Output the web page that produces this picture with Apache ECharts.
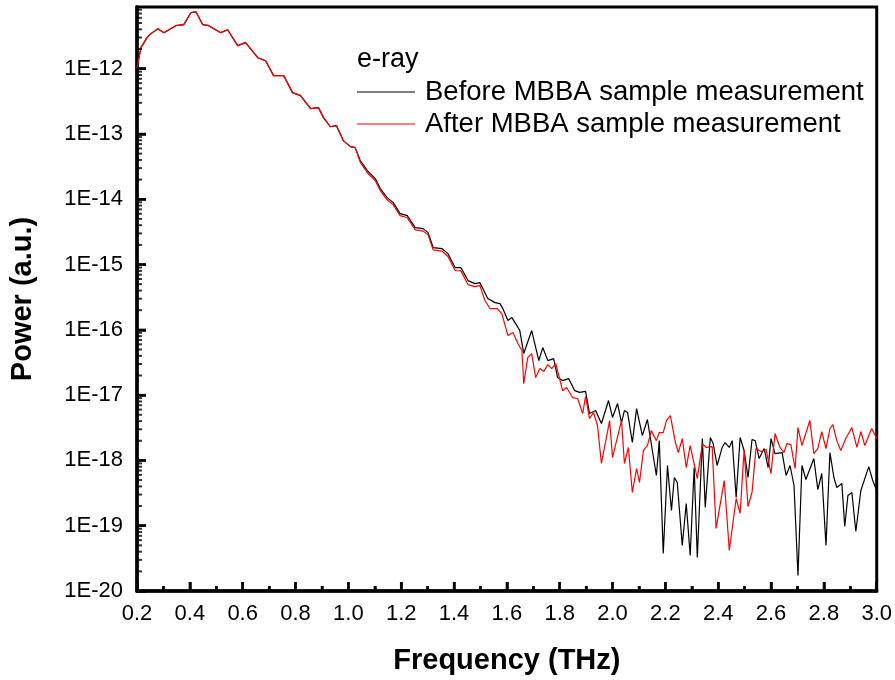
<!DOCTYPE html>
<html>
<head>
<meta charset="utf-8">
<script src="https://cdn.jsdelivr.net/npm/echarts@6/dist/echarts.min.js"></script>
<style>html,body{margin:0;padding:0;background:#fff;}#c{width:895px;height:680px;}</style>
</head>
<body>
<div id="c"></div>
<script>
// ---- data ----
const xTicks = ['0.2','0.4','0.6','0.8','1.0','1.2','1.4','1.6','1.8','2.0','2.2','2.4','2.6','2.8','3.0'];
const xMinorTicks = [0.3,0.5,0.7,0.9,1.1,1.3,1.5,1.7,1.9,2.1,2.3,2.5,2.7,2.9];
const yTicks = ['1E-20','1E-19','1E-18','1E-17','1E-16','1E-15','1E-14','1E-13','1E-12'];

const freqBefore = [0.200,0.215,0.238,0.253,0.279,0.302,0.347,0.377,0.404,0.423,0.449,0.472,0.517,0.543,0.581,0.611,0.657,0.687,0.717,0.755,0.789,0.819,0.857,0.887,0.906,0.932,0.955,0.981,1.008,1.026,
1.045,1.072,1.102,1.121,1.147,1.170,1.196,1.223,1.253,1.283,1.302,1.321,1.355,1.377,1.404,1.426,1.453,1.479,1.498,
1.528,1.555,1.574,1.585,1.604,1.619,1.638,1.649,1.664,1.694,1.721,1.736,1.755,1.777,1.792,1.811,1.834,1.857,1.875,1.898,1.913,1.936,1.958,1.985,2.000,2.019,2.034,2.045,2.057,2.075,2.091,2.113,2.132,2.166,2.177,2.192,2.208,2.223,2.234,2.245,2.264,2.279,2.294,2.309,2.321,2.340,2.351,2.370,2.381,2.396,2.415,2.426,2.442,2.453,2.468,2.483,2.498,2.513,2.528,2.540,2.555,2.574,2.589,2.600,2.615,2.642,2.657,2.672,2.687,2.702,2.717,2.732,2.762,2.777,2.792,2.808,2.823,2.838,2.849,2.868,2.879,2.891,2.906,2.921,2.940,2.970,2.985,3.000];
const powerBefore = [1.03e-12,2.10e-12,2.99e-12,3.44e-12,4.10e-12,3.56e-12,4.55e-12,4.72e-12,7.19e-12,7.46e-12,4.72e-12,4.55e-12,3.56e-12,3.95e-12,2.25e-12,2.50e-12,1.47e-12,1.32e-12,7.82e-13,7.82e-13,4.30e-13,3.86e-13,2.44e-13,2.53e-13,1.78e-13,1.29e-13,1.34e-13,7.91e-14,6.40e-14,6.18e-14,
3.91e-14,2.74e-14,2.07e-14,1.46e-14,1.06e-14,8.88e-15,6.03e-15,5.61e-15,3.68e-15,3.55e-15,3.08e-15,1.82e-15,1.75e-15,1.47e-15,8.98e-16,8.98e-16,5.68e-16,5.10e-16,5.28e-16,
3.01e-16,2.61e-16,2.52e-16,2.11e-16,1.39e-16,1.54e-16,1.16e-16,9.75e-17,4.33e-17,9.75e-17,3.38e-17,5.35e-17,3.38e-17,3.63e-17,1.86e-17,1.67e-17,1.79e-17,1.17e-17,1.10e-17,1.14e-17,5.23e-18,5.81e-18,3.67e-18,8.26e-18,4.54e-18,7.43e-18,3.80e-18,5.81e-18,5.41e-18,1.88e-18,6.22e-18,2.40e-18,4.23e-18,5.87e-19,2.01e-18,3.75e-20,8.36e-19,1.71e-19,5.47e-19,4.59e-19,4.98e-20,2.19e-19,3.50e-20,7.78e-19,3.26e-20,2.16e-18,1.90e-19,2.24e-18,1.81e-18,8.36e-19,1.58e-18,1.88e-18,1.58e-18,2.01e-18,2.70e-19,2.24e-18,1.42e-18,5.47e-19,2.09e-18,2.01e-18,1.07e-18,1.52e-18,7.78e-19,2.16e-18,1.27e-18,1.32e-18,5.87e-19,8.36e-19,4.13e-19,1.73e-20,8.36e-19,5.10e-19,1.07e-18,3.58e-19,6.30e-19,4.98e-20,1.32e-18,5.47e-19,3.85e-19,4.43e-19,9.73e-20,2.90e-19,3.22e-19,8.15e-20,3.46e-19,8.05e-19,4.92e-19,3.46e-19];

const freqAfter = [0.200,0.215,0.238,0.253,0.279,0.302,0.347,0.377,0.404,0.423,0.449,0.472,0.517,0.543,0.581,0.611,0.657,0.687,0.717,0.755,0.789,0.819,0.857,0.887,0.906,0.932,0.955,0.981,1.008,1.026,
1.045,1.072,1.102,1.121,1.147,1.170,1.196,1.223,1.253,1.283,1.302,1.321,1.355,1.377,1.404,1.426,1.453,1.479,1.498,
1.517,1.536,1.562,1.581,1.604,1.623,1.642,1.657,1.664,1.679,1.694,1.709,1.725,1.740,1.755,1.770,1.785,1.811,1.826,1.849,1.868,1.887,1.898,1.913,1.928,1.943,1.958,1.989,2.000,2.034,2.045,2.060,2.075,2.091,2.102,2.117,2.132,2.147,2.166,2.177,2.192,2.204,2.219,2.238,2.249,2.264,2.279,2.294,2.321,2.340,2.355,2.377,2.392,2.423,2.442,2.468,2.483,2.498,2.513,2.528,2.543,2.562,2.581,2.600,2.615,2.634,2.649,2.660,2.675,2.691,2.702,2.717,2.747,2.762,2.777,2.792,2.808,2.823,2.834,2.849,2.864,2.883,2.906,2.925,2.940,2.955,2.981,3.000];
const powerAfter = [1.03e-12,2.10e-12,2.99e-12,3.44e-12,4.10e-12,3.56e-12,4.55e-12,4.72e-12,7.19e-12,7.46e-12,4.72e-12,4.55e-12,3.56e-12,3.95e-12,2.25e-12,2.50e-12,1.47e-12,1.32e-12,7.82e-13,7.82e-13,4.30e-13,3.86e-13,2.44e-13,2.53e-13,1.78e-13,1.29e-13,1.34e-13,7.91e-14,6.40e-14,6.18e-14,
3.70e-14,2.55e-14,1.92e-14,1.36e-14,9.80e-15,8.20e-15,5.60e-15,5.20e-15,3.40e-15,3.25e-15,2.85e-15,1.68e-15,1.60e-15,1.33e-15,8.10e-16,8.00e-16,4.93e-16,4.59e-16,4.76e-16,
2.81e-16,2.12e-16,2.12e-16,1.77e-16,8.17e-17,9.08e-17,6.17e-17,4.82e-17,1.50e-17,3.76e-17,4.33e-17,1.86e-17,2.55e-17,2.30e-17,2.94e-17,2.55e-17,3.05e-17,1.17e-17,1.31e-17,9.18e-18,8.87e-18,5.23e-18,9.50e-18,4.38e-18,5.41e-18,3.42e-18,8.97e-19,4.08e-18,1.11e-18,4.08e-18,8.97e-19,1.58e-18,3.23e-19,7.52e-19,4.59e-19,1.42e-18,1.69e-18,2.87e-18,2.01e-18,2.67e-18,2.67e-18,4.08e-18,4.87e-18,1.88e-18,1.32e-18,2.16e-18,7.78e-19,1.69e-18,5.28e-19,1.81e-18,1.58e-18,1.63e-18,9.08e-20,4.92e-19,4.17e-20,2.61e-19,1.54e-19,1.42e-18,1.97e-19,3.23e-19,1.52e-18,1.37e-18,1.47e-18,6.30e-19,2.58e-18,1.58e-18,1.32e-18,1.81e-18,1.75e-18,7.52e-19,3.19e-18,1.69e-18,4.08e-18,1.27e-18,1.52e-18,2.77e-18,1.52e-18,3.08e-18,3.54e-18,2.01e-18,1.42e-18,2.16e-18,3.19e-18,1.58e-18,2.77e-18,1.69e-18,3.08e-18,2.16e-18];

const seriesNames = ['Before MBBA sample measurement', 'After MBBA sample measurement'];
const legendTitle = 'e-ray';

// ---- build ----
const zip = (xs, ys) => xs.map((x, i) => [x, ys[i]]);
const xMajorVals = xTicks.map(Number);
const yMajorVals = yTicks.map(t => Number(t));
const yMinorVals = [];
yMajorVals.forEach(b => { for (let m = 2; m <= 9; m++) { const v = m * b; if (v < 8.8e-12) yMinorVals.push(v); } });
const FONT = 'Liberation Sans, Arial, sans-serif';
const Y_MIN = 1e-20, Y_MAX = 8.8e-12;

const tickSeries = (data, size, offset) => ({
  type: 'scatter', silent: true, clip: false, z: 6, data: data,
  symbol: 'rect', symbolSize: size, symbolOffset: offset,
  itemStyle: {color: '#000'}, emphasis: {disabled: true}
});

const chart = echarts.init(document.getElementById('c'), null, {renderer: 'canvas'});
chart.setOption({
  animation: false,
  backgroundColor: '#fff',
  grid: {left: 136, right: 18, top: 7, bottom: 89, show: true, borderColor: '#000', borderWidth: 3},
  title: {text: legendTitle, left: 352, top: 41, textStyle: {fontFamily: FONT, fontSize: 27, fontWeight: 'normal', color: '#000'}},
  legend: {
    orient: 'vertical', left: 352, top: 73, itemWidth: 58, itemHeight: 12, itemGap: 4,
    data: seriesNames.map(n => ({name: n, icon: 'path://M0,5 L58,5 L58,6.2 L0,6.2 Z'})),
    textStyle: {fontFamily: FONT, fontSize: 27.5, color: '#000', lineHeight: 28, padding: [0, 0, 0, 5]}
  },
  xAxis: {
    type: 'value', min: 0.2, max: 3.0, interval: 0.2,
    axisLine: {show: true, lineStyle: {color: '#000', width: 3.5}},
    axisTick: {show: true, inside: true, length: 9, lineStyle: {width: 2.5, color: '#000'}},
    minorTick: {show: true, splitNumber: 2, length: 5, lineStyle: {width: 2.5, color: '#000'}},
    axisLabel: {fontFamily: FONT, fontSize: 22, color: '#000', margin: 12, formatter: v => xTicks[Math.round((v - 0.2) / 0.2)] || ''},
    splitLine: {show: false},
    name: 'Frequency (THz)', nameLocation: 'middle', nameGap: 55,
    nameTextStyle: {fontFamily: FONT, fontSize: 29, fontWeight: 'bold', color: '#000'}
  },
  yAxis: {
    type: 'log', min: Y_MIN, max: Y_MAX, logBase: 10,
    axisLine: {show: true, lineStyle: {color: '#000', width: 3.5}},
    axisTick: {show: true, inside: true, length: 9, lineStyle: {width: 2.5, color: '#000'}},
    axisLabel: {fontFamily: FONT, fontSize: 22, color: '#000', margin: 14, showMaxLabel: false,
      formatter: v => { const e = Math.round(Math.log10(v)); return yTicks[e + 20] || ''; }},
    splitLine: {show: false},
    name: 'Power (a.u.)', nameLocation: 'middle', nameGap: 100,
    nameTextStyle: {fontFamily: FONT, fontSize: 29, fontWeight: 'bold', color: '#000'}
  },
  series: [
    {name: seriesNames[0], type: 'line', data: zip(freqBefore, powerBefore), symbol: 'none', color: '#000', lineStyle: {width: 1.2, color: '#000'}, z: 3},
    {name: seriesNames[1], type: 'line', data: zip(freqAfter, powerAfter), symbol: 'none', color: '#ff0000', lineStyle: {width: 1.2, color: '#ff0000'}, z: 4},
    tickSeries(xMajorVals.map(x => [x, Y_MIN]), [2.5, 9], [0, -4.5]),
    tickSeries(xMinorTicks.map(x => [x, Y_MIN]), [2.5, 5], [0, -2.5]),
    tickSeries(yMajorVals.map(v => [0.2, v]), [9, 2.5], [4.5, 0]),
    tickSeries(yMinorVals.map(v => [0.2, v]), [5, 2], [2.5, 0])
  ]
});
</script>
</body>
</html>
